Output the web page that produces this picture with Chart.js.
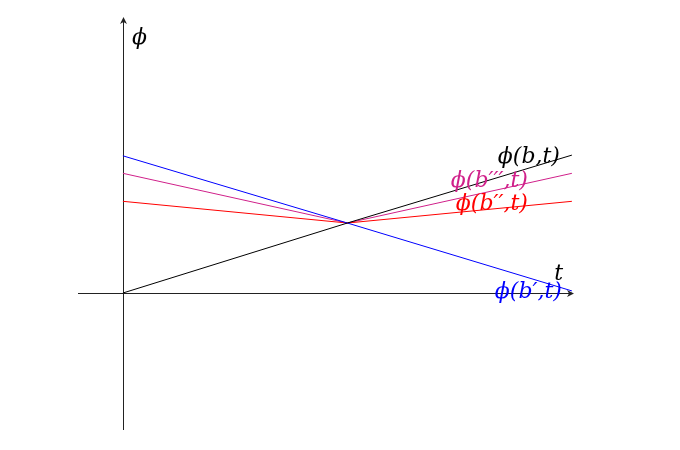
<!DOCTYPE html>
<html>
<head>
<meta charset="utf-8">
<script src="https://cdn.jsdelivr.net/npm/chart.js@4.4.1/dist/chart.umd.min.js"></script>
<style>
  body { margin: 0; background: #fff; }
  canvas { display: block; }
</style>
</head>
<body>
<canvas id="grafica" width="680" height="450"></canvas>
<script>
// valores (t en 0..2, phi en unidades del cruce)
const tiempos = [0, 1, 2];
const phiB = [0, 1, 1.97];
const phiB1 = [1.96, 1, 0.03];
const phiB2 = [1.31, 1, 1.31];
const phiB3 = [1.71, 1, 1.71];
const etiquetas = ["ϕ(b,t)", "ϕ(b′,t)", "ϕ(b′′,t)", "ϕ(b′′′,t)"];
const colores = ["#000000", "#0000ff", "#ff0000", "#d0208a"];

const serie = (vals) => tiempos.map((t, i) => ({ x: t, y: vals[i] }));
const fuente = "italic 22px 'DejaVu Serif', serif";

// ejes con flecha, como en el original
const ejes = {
    id: "ejes",
    beforeDatasetsDraw(chart) {
        const { ctx, scales: { x, y } } = chart;
        const x0 = Math.round(x.getPixelForValue(0)) + 0.5;
        const y0 = Math.round(y.getPixelForValue(0)) + 0.5;
        const xFin = x.getPixelForValue(x.max);
        const yFin = y.getPixelForValue(y.max);
        ctx.save();
        ctx.strokeStyle = "#222";
        ctx.fillStyle = "#222";
        ctx.lineWidth = 1;
        ctx.beginPath();
        ctx.moveTo(x.getPixelForValue(x.min), y0);
        ctx.lineTo(xFin, y0);
        ctx.moveTo(x0, y.getPixelForValue(y.min));
        ctx.lineTo(x0, yFin);
        ctx.stroke();
        // puntas
        ctx.beginPath();
        ctx.moveTo(xFin + 1, y0);
        ctx.lineTo(xFin - 6, y0 - 3.5);
        ctx.lineTo(xFin - 4, y0);
        ctx.lineTo(xFin - 6, y0 + 3.5);
        ctx.closePath();
        ctx.fill();
        ctx.beginPath();
        ctx.moveTo(x0, yFin - 1);
        ctx.lineTo(x0 - 3.5, yFin + 6);
        ctx.lineTo(x0, yFin + 4);
        ctx.lineTo(x0 + 3.5, yFin + 6);
        ctx.closePath();
        ctx.fill();
        ctx.restore();
    },
    afterDatasetsDraw(chart) {
        const { ctx, scales: { x, y } } = chart;
        const x0 = x.getPixelForValue(0);
        const xFin = x.getPixelForValue(x.max);
        const y0 = y.getPixelForValue(0);
        const yFin = y.getPixelForValue(y.max);
        ctx.save();
        ctx.font = fuente;
        ctx.textBaseline = "alphabetic";
        ctx.fillStyle = "#000";
        ctx.textAlign = "left";
        ctx.fillText("ϕ", x0 + 9, yFin + 26);
        ctx.textAlign = "right";
        ctx.fillText("t", xFin - 10, y0 - 13);
        // etiquetas al final de cada recta
        const desp = [[-12, 8], [-10, 7], [-44, 9], [-44, 14]];
        chart.data.datasets.forEach((ds, i) => {
            const p = ds.data[ds.data.length - 1];
            ctx.fillStyle = colores[i];
            ctx.fillText(etiquetas[i], x.getPixelForValue(p.x) + desp[i][0], y.getPixelForValue(p.y) + desp[i][1]);
        });
        ctx.restore();
    }
};

const miGraf = new Chart(document.querySelector("#grafica"), {
    type: "line",
    data: {
        datasets: [phiB, phiB1, phiB2, phiB3].map((vals, i) => ({
            label: etiquetas[i],
            data: serie(vals),
            borderColor: colores[i],
            borderWidth: 1,
            pointRadius: 0,
            tension: 0
        }))
    },
    options: {
        responsive: false,
        animation: false,
        layout: { padding: { left: 78, right: 107, top: 18, bottom: 20 } },
        plugins: { legend: { display: false }, tooltip: { enabled: false } },
        scales: {
            x: { type: "linear", min: -0.2, max: 2.005, display: false },
            y: { type: "linear", min: -1.957, max: 3.929, display: false }
        }
    },
    plugins: [ejes]
});
</script>
</body>
</html>
